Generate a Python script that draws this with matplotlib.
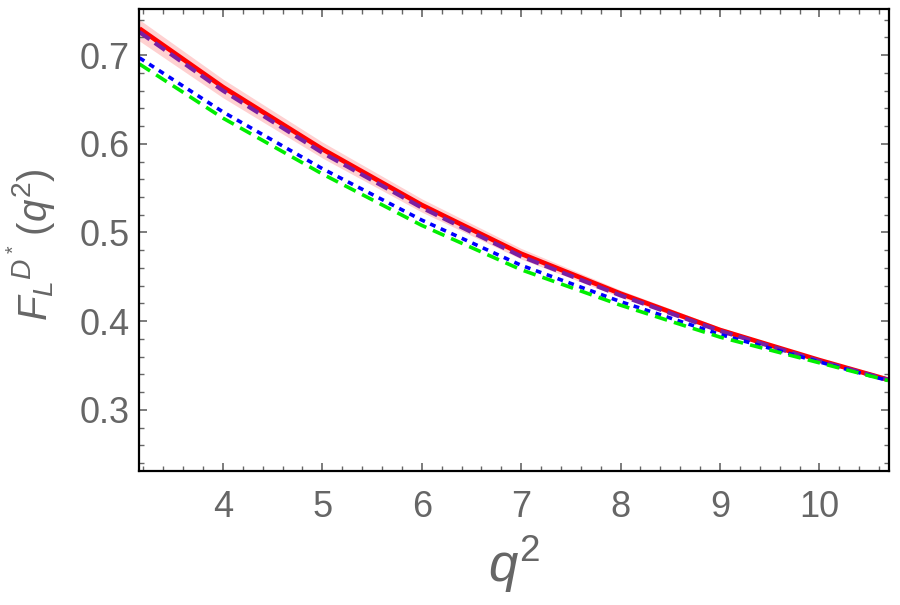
import numpy as np
import matplotlib
matplotlib.use("Agg")
import matplotlib.pyplot as plt
from matplotlib.ticker import MultipleLocator

plt.rcParams['font.family'] = ['Liberation Sans', 'DejaVu Sans']
plt.rcParams['mathtext.fontset'] = 'custom'
plt.rcParams['mathtext.rm'] = 'Liberation Sans'
plt.rcParams['mathtext.it'] = 'Liberation Sans:italic'

# values
q2 = [3.16, 4, 5, 6, 7, 8, 9, 10, 10.69]
red = [0.730, 0.664, 0.594, 0.531, 0.476, 0.431, 0.390, 0.356, 0.334]
band_hi = [0.740, 0.673, 0.602, 0.538, 0.482, 0.435, 0.393, 0.357, 0.334]
band_lo = [0.716, 0.652, 0.584, 0.523, 0.470, 0.427, 0.388, 0.355, 0.333]
purple = [0.726, 0.660, 0.590, 0.528, 0.473, 0.429, 0.389, 0.355, 0.334]
blue = [0.697, 0.636, 0.572, 0.514, 0.463, 0.422, 0.385, 0.354, 0.333]
green = [0.690, 0.629, 0.566, 0.508, 0.458, 0.418, 0.382, 0.353, 0.333]

grey = '#666666'

fig = plt.figure(figsize=(9, 6.05), dpi=100)
ax = fig.add_axes([0.1544, 0.2215, 0.8334, 0.7635])

ax.fill_between(q2, band_lo, band_hi, color='#ffcccc', lw=0, alpha=0.9)
ax.plot(q2, red, color='red', lw=3.4, solid_capstyle='butt')
ax.plot(q2, purple, color='#7a1fa2', lw=3, dashes=(3, 1.5))
ax.plot(q2, blue, color='blue', lw=2.6, dashes=(1.6, 1.6))
ax.plot(q2, green, color='#00ee00', lw=2.6, dashes=(3.5, 2))

ax.set_xlim(3.155, 10.70)
ax.set_ylim(0.231, 0.752)
ax.xaxis.set_major_locator(MultipleLocator(1))
ax.xaxis.set_minor_locator(MultipleLocator(0.2))
ax.yaxis.set_major_locator(MultipleLocator(0.1))
ax.yaxis.set_minor_locator(MultipleLocator(0.02))
ax.tick_params(which='both', direction='in', top=True, right=True,
               color=grey, labelcolor=grey, labelsize=26)
ax.tick_params(which='major', length=6, width=1.2)
ax.tick_params(which='minor', length=3.5, width=1.0)
ax.tick_params(axis='x', which='major', pad=14)
ax.tick_params(axis='y', which='major', pad=6.5)
for s in ax.spines.values():
    s.set_linewidth(1.6)
    s.set_color('black')

ax.set_xlabel('$q^2$', fontsize=38, color=grey)
ax.xaxis.set_label_coords(0.5, -0.135)
ax.set_ylabel('$F_L{}^{D^*}\\,(q^2)$', fontsize=29, color=grey)
ax.yaxis.set_label_coords(-0.108, 0.49)

fig.savefig('out.png', dpi=100)
